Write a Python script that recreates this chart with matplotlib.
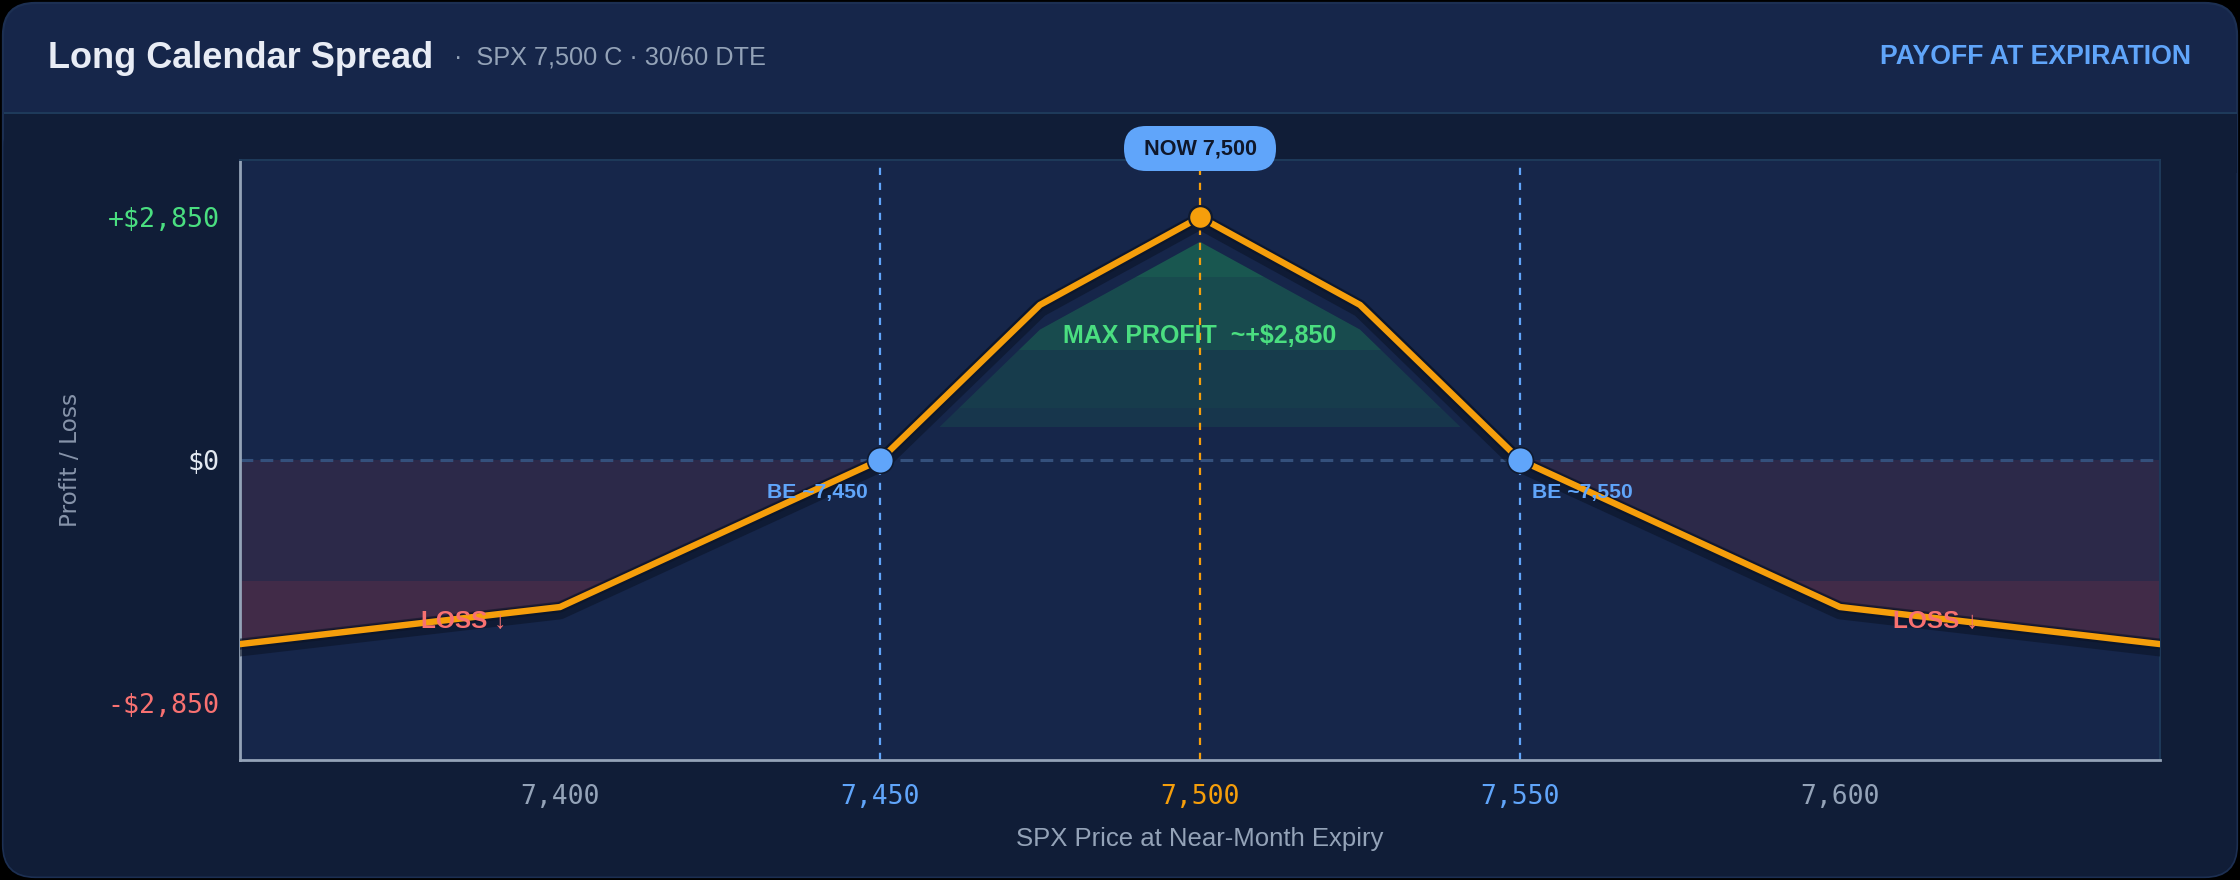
import matplotlib
matplotlib.use("Agg")
import matplotlib.pyplot as plt
import matplotlib.transforms as mtransforms
from matplotlib.patches import FancyBboxPatch, Rectangle, Polygon
import numpy as np

# payoff at near-month expiry
price = [7350, 7400, 7450, 7475, 7500, 7525, 7550, 7600, 7650]
pnl = [-2160, -1725, 0, 1820, 2850, 1820, 0, -1725, -2160]

breakevens = [7450, 7550]
now_price = 7500
max_profit = 2850

x_ticks = [7400, 7450, 7500, 7550, 7600]
x_labels = ["7,400", "7,450", "7,500", "7,550", "7,600"]
y_ticks = [2850, 0, -2850]
y_labels = ["+$2,850", "$0", "-$2,850"]

# colours
BG = "#000000"
HEADER = "#16264a"
BODY = "#101d37"
PLOT = "#16264a"
ORANGE = "#f59e0b"
BLUE = "#60a5fa"
GREEN = "#4ade80"
RED = "#f87171"
GRAY = "#94a3b8"

W, H = 2240, 880
DPI = 200
fig = plt.figure(figsize=(W / DPI, H / DPI), dpi=DPI, facecolor=BG)

# card + header (pixel coords)
card = FancyBboxPatch((3, 3), W - 6, H - 6, boxstyle="round,pad=0,rounding_size=32",
                      transform=None, fc=HEADER, ec="#1c2f52", lw=0.8, zorder=0)
fig.patches.append(card)
body = FancyBboxPatch((3.5, 3.5), W - 7, H - 113 - 4, boxstyle="round,pad=0,rounding_size=32",
                      transform=None, fc=BODY, ec="none", zorder=0.1)
fig.patches.append(body)
fig.patches.append(Rectangle((3.5, H - 113 - 60), W - 7, 60, transform=None,
                             fc=BODY, ec="none", zorder=0.2))
fig.patches.append(Rectangle((3.5, H - 114), W - 7, 2, transform=None,
                             fc="#1e3a5a", ec="none", zorder=0.3))

fig.text(48 / W, 1 - 68 / H, "Long Calendar Spread", family="Liberation Sans",
         weight="bold", size=13, color="#e8ecf5", va="baseline")
fig.text(454 / W, 1 - 65 / H, "·  SPX 7,500 C · 30/60 DTE", family="Liberation Sans",
         size=9.1, color=GRAY, va="baseline")
fig.text(2191 / W, 1 - 64 / H, "PAYOFF AT EXPIRATION", family="Liberation Sans",
         weight="bold", size=9.6, color=BLUE, va="baseline", ha="right")

ax = fig.add_axes([240 / W, 120 / H, 1920 / W, 600 / H])
ax.set_zorder(1)
ax.set_facecolor(PLOT)
ax.set_xlim(7350, 7650)
ax.set_ylim(-3520, 3520)

# loss fill (two bands clipped to the area between curve and zero)
loss_clip = Polygon(np.column_stack([price + [price[-1], price[0]], pnl + [0, 0]]),
                    closed=True, transform=ax.transData, fc="none", ec="none")
ax.add_patch(loss_clip)
for lo, hi, a in [(-1419, 0, 0.10), (-3520, -1419, 0.20)]:
    band = ax.axhspan(lo, hi, color="#ef4444", alpha=a, lw=0, zorder=1)
    band.set_clip_path(loss_clip)

# profit fill (stepped gradient, inset under the curve)
inset = 290
prof_clip = Polygon(np.column_stack([price, np.array(pnl) - inset]),
                    closed=True, transform=ax.transData, fc="none", ec="none")
ax.add_patch(prof_clip)
for lo, hi, a in [(387, 610, 0.10), (610, 1290, 0.14), (1290, 2146, 0.24), (2146, 3200, 0.31)]:
    band = ax.axhspan(lo, hi, color="#22c55e", alpha=a, lw=0, zorder=1)
    band.set_clip_path(prof_clip)

# reference lines
plt.rcParams["lines.scale_dashes"] = False
ax.axhline(0, color="#34507c", lw=1.1, dashes=(4.6, 2.6), zorder=2)
for b in breakevens:
    ax.axvline(b, color=BLUE, lw=0.8, dashes=(2.6, 2.8), zorder=2)
ax.axvline(now_price, color=ORANGE, lw=0.8, dashes=(2.6, 2.8), zorder=2)

# payoff line with shadow
shadow = mtransforms.offset_copy(ax.transData, fig=fig, x=0, y=-4, units="dots")
ax.plot(price, pnl, color="#0a1224", lw=6.0, alpha=0.55, transform=shadow,
        solid_joinstyle="round", zorder=3)
ax.plot(price, pnl, color="#0a1224", lw=4.0, alpha=0.55, solid_joinstyle="round", zorder=3.5)
ax.plot(price, pnl, color=ORANGE, lw=2.3, solid_joinstyle="miter", zorder=4)

ax.plot([now_price], [max_profit], "o", ms=8.2, mfc=ORANGE, mec="#0f1a30", mew=0.8, zorder=5)
ax.plot(breakevens, [0, 0], "o", ms=9.3, mfc=BLUE, mec="#0f1a30", mew=0.6, zorder=5)

# annotations
ax.text(now_price, 1455, "MAX PROFIT  ~+$2,850",
        family="Liberation Sans", weight="bold", size=9, color=GREEN,
        ha="center", va="center", zorder=6)
ax.text(breakevens[0] - 1.9, -380, "BE ~7,450", family="Liberation Sans", weight="bold",
        size=7.6, color=BLUE, ha="right", va="center", zorder=6)
ax.text(breakevens[1] + 1.9, -380, "BE ~7,550", family="Liberation Sans", weight="bold",
        size=7.6, color=BLUE, ha="left", va="center", zorder=6)
for lx in [7385, 7615]:
    ax.text(lx, -1895, "LOSS ↓", family=["Liberation Sans", "DejaVu Sans"], weight="bold",
            size=8.8, color=RED, ha="center", va="center", zorder=6)

# NOW pill
fig.canvas.draw()
cx, _ = ax.transData.transform((now_price, 0))
fig.patches.append(FancyBboxPatch((cx - 76, H - 171), 152, 45,
                                  boxstyle="round,pad=0,rounding_size=22",
                                  transform=None, fc=BLUE, ec="none", zorder=5))
fig.text(cx / W, 1 - 149 / H, "NOW 7,500", family="Liberation Sans", weight="bold",
         size=7.8, color="#0f172a", ha="center", va="center", zorder=6)

# axes styling
for s in ["top", "right"]:
    ax.spines[s].set_color("#1e3a5a")
    ax.spines[s].set_linewidth(0.7)
for s in ["left", "bottom"]:
    ax.spines[s].set_color(GRAY)
    ax.spines[s].set_linewidth(1.0)

ax.set_xticks(x_ticks)
ax.set_xticklabels(x_labels, family="DejaVu Sans Mono", size=9.5)
ax.set_yticks(y_ticks)
ax.set_yticklabels(y_labels, family="DejaVu Sans Mono", size=9.6)
ax.tick_params(axis="both", length=0)
ax.tick_params(axis="x", pad=8.5)
ax.tick_params(axis="y", pad=7.3)
x_cols = [GRAY, BLUE, ORANGE, BLUE, GRAY]
for t, c in zip(ax.get_xticklabels(), x_cols):
    t.set_color(c)
for t, c in zip(ax.get_yticklabels(), [GREEN, "#e2e8f0", RED]):
    t.set_color(c)

ax.set_xlabel("SPX Price at Near-Month Expiry", family="Liberation Sans", size=9.25,
              color=GRAY, va="center")
ax.xaxis.set_label_coords(0.5, -0.1317)
ax.set_ylabel("Profit / Loss", family="DejaVu Sans", size=8.4, color="#8794aa",
              va="center", ha="center")
ax.yaxis.set_label_coords(-0.0885, 0.5)

fig.savefig("out.png", dpi=DPI, facecolor=BG)
